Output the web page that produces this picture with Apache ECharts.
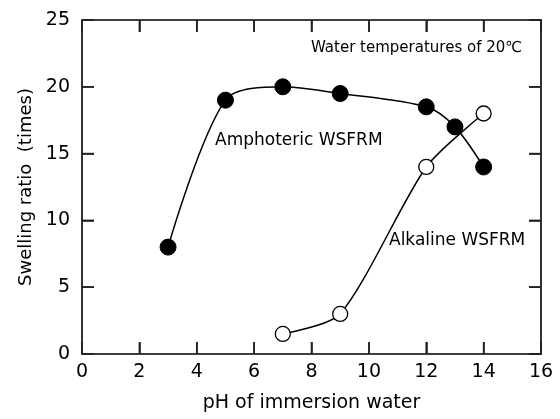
<!DOCTYPE html>
<html><head><meta charset="utf-8">
<script src="https://cdn.jsdelivr.net/npm/echarts@6/dist/echarts.min.js"></script>
<style>html,body{margin:0;padding:0;background:#fff}#c{width:560px;height:419px}</style>
</head><body><div id="c"></div>
<script>
var amphotericPH = [3, 5, 7, 9, 12, 13, 14];
var amphotericRatio = [8, 19, 20, 19.5, 18.5, 17, 14];
var alkalinePH = [7, 9, 12, 14];
var alkalineRatio = [1.5, 3, 14, 18];
var xTicks = [0, 2, 4, 6, 8, 10, 12, 14, 16];
var yTicks = [0, 5, 10, 15, 20, 25];
var xTitle = 'pH of immersion water';
var yTitle = 'Swelling ratio\u00a0 (times)';
var noteText = 'Water temperatures of 20\u2103';
var amphName = 'Amphoteric WSFRM';
var alkName = 'Alkaline WSFRM';

function pairs(xs, ys){ return xs.map(function(x,i){return [x, ys[i]];}); }
var FONT = 'DejaVu Sans';
var TICK_LEN = 12;
var xMin = xTicks[0], xMax = xTicks[xTicks.length-1];
var yMin = yTicks[0], yMax = yTicks[yTicks.length-1];
var tickStyle = {stroke:'#222', lineWidth:1.6};
var chart = echarts.init(document.getElementById('c'), null, {renderer:'canvas'});
function axisCommon(onZero){ return {
  axisLine:{show:true, onZero:onZero, lineStyle:{color:'#000', width:1.6}},
  axisTick:{show:true, inside:true, length:TICK_LEN, lineStyle:{color:'#222', width:1.6}},
  splitLine:{show:false}
};}
chart.setOption({
  animation:false,
  backgroundColor:'#fff',
  grid:{left:82, right:19, top:20, bottom:65, containLabel:false},
  xAxis:[
    Object.assign({type:'value', min:xMin, max:xMax, interval:2, position:'bottom',
      name:xTitle, nameLocation:'middle', nameGap:40,
      nameTextStyle:{fontFamily:FONT, fontSize:19, color:'#000'},
      axisLabel:{fontFamily:FONT, fontSize:19, color:'#000', margin:9}}, axisCommon(true)),
    Object.assign({type:'value', min:xMin, max:xMax, interval:2, position:'top',
      axisLabel:{show:false}}, axisCommon(false))
  ],
  yAxis:[
    Object.assign({type:'value', min:yMin, max:yMax, interval:5, position:'left',
      name:yTitle, nameLocation:'middle', nameGap:47,
      nameTextStyle:{fontFamily:FONT, fontSize:18, color:'#000'},
      axisLabel:{fontFamily:FONT, fontSize:19, color:'#000', margin:12}}, axisCommon(true)),
    Object.assign({type:'value', min:yMin, max:yMax, interval:5, position:'right',
      axisLabel:{show:false}}, axisCommon(false))
  ],
  series:[
    {type:'custom', silent:true, z:1, clip:false,
      data:xTicks.map(function(v){return [v, yMin];}),
      encode:{x:0, y:1},
      renderItem:function(params, api){
        var v = api.value(0);
        var b = api.coord([v, yMin]);
        var t = api.coord([v, yMax]);
        return {type:'group', children:[
          {type:'line', shape:{x1:b[0], y1:b[1], x2:b[0], y2:b[1]-TICK_LEN}, style:tickStyle},
          {type:'line', shape:{x1:t[0], y1:t[1], x2:t[0], y2:t[1]+TICK_LEN}, style:tickStyle}
        ]};
      }},
    {type:'custom', silent:true, z:1, clip:false,
      data:yTicks.map(function(v){return [xMin, v];}),
      encode:{x:0, y:1},
      renderItem:function(params, api){
        var v = api.value(1);
        var l = api.coord([xMin, v]);
        var r = api.coord([xMax, v]);
        return {type:'group', children:[
          {type:'line', shape:{x1:l[0], y1:l[1], x2:l[0]+TICK_LEN, y2:l[1]}, style:tickStyle},
          {type:'line', shape:{x1:r[0], y1:r[1], x2:r[0]-TICK_LEN, y2:r[1]}, style:tickStyle}
        ]};
      }},
    {type:'line', name:alkName, data:pairs(alkalinePH, alkalineRatio), smooth:0.25,
      symbol:'circle', symbolSize:15,
      lineStyle:{color:'#000', width:1.5},
      itemStyle:{color:'#fff', borderColor:'#000', borderWidth:1.3}, z:2},
    {type:'line', name:amphName, data:pairs(amphotericPH, amphotericRatio), smooth:0.3,
      symbol:'circle', symbolSize:16,
      lineStyle:{color:'#000', width:1.5},
      itemStyle:{color:'#000', borderColor:'#000', borderWidth:1}, z:3}
  ],
  graphic:[
    {type:'text', left:311, top:41, style:{text:noteText, fontFamily:FONT, fontSize:15, fill:'#000'}},
    {type:'text', left:215, top:132, style:{text:amphName, fontFamily:FONT, fontSize:17, fill:'#000'}},
    {type:'text', left:389, top:232, style:{text:alkName, fontFamily:FONT, fontSize:17, fill:'#000'}}
  ]
});
</script></body></html>
